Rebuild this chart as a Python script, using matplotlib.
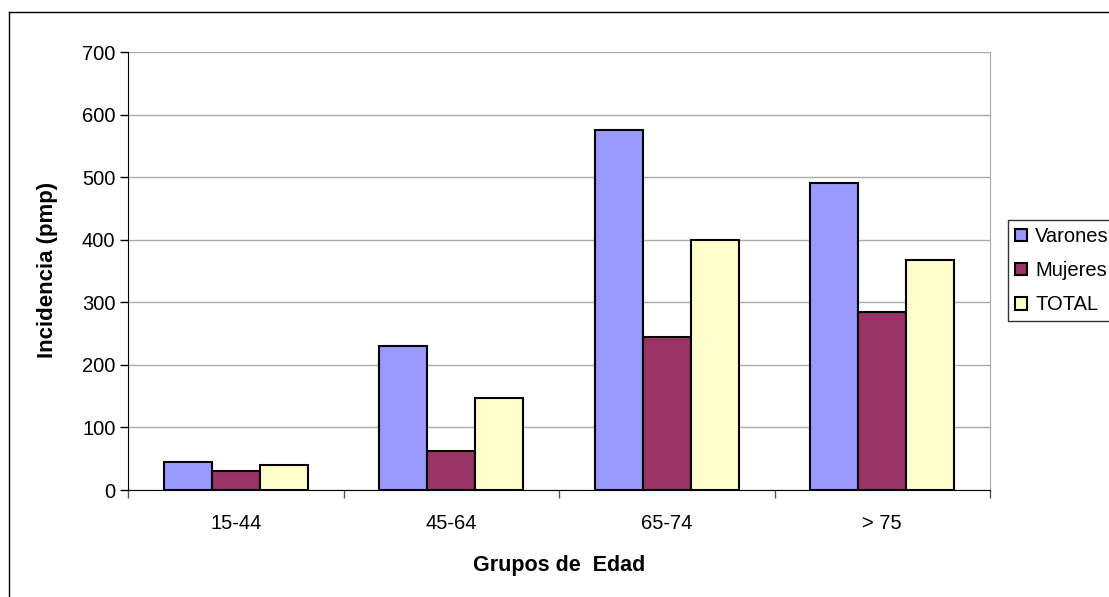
import matplotlib
matplotlib.use("Agg")
import matplotlib.pyplot as plt
from matplotlib.lines import Line2D
import numpy as np

grupos = ["15-44", "45-64", "65-74", "> 75"]
varones = [45, 230, 575, 490]
mujeres = [30, 62, 245, 284]
total = [40, 147, 400, 367]

series = [("Varones", varones, "#9999FF"),
          ("Mujeres", mujeres, "#993366"),
          ("TOTAL", total, "#FFFFCC")]

plt.rcParams["font.family"] = ["Liberation Sans", "DejaVu Sans"]

W, H = 1109, 597
fig = plt.figure(figsize=(W / 100, H / 100), dpi=100)
ax = fig.add_axes([128 / W, 1 - 490 / H, 862 / W, 438 / H])

x = np.arange(len(grupos))
ancho = 0.223
for i, (nombre, valores, color) in enumerate(series):
    ax.bar(x + (i - 1) * ancho, valores, ancho, color=color,
           edgecolor="black", linewidth=1.5, label=nombre, zorder=3)

ax.set_xlim(-0.5, len(grupos) - 0.5)
ax.set_ylim(0, 700)
ax.set_yticks(range(0, 701, 100))
ax.yaxis.grid(True, color="#AAAAAA", linewidth=1, zorder=0)
ax.set_xticks(x)
ax.set_xticklabels(grupos, fontsize=14.5)
ax.set_xticks(np.arange(-0.5, len(grupos), 1), minor=True)
ax.tick_params(axis="x", which="major", length=0, pad=17)
ax.tick_params(axis="x", which="minor", length=6, width=1, color="#555555")
ax.tick_params(axis="y", length=6, width=1, labelsize=14.5, pad=3)

ax.spines["top"].set_visible(False)
ax.spines["right"].set_color("#AAAAAA")
ax.spines["left"].set_color("black")
ax.spines["bottom"].set_color("black")

# títulos de los ejes en posición fija (px)
fig.text(47 / W, 1 - 270 / H, "Incidencia (pmp)", rotation=90, ha="center",
         va="center", fontsize=16, fontweight="bold")
fig.text(559 / W, 1 - 566 / H, "Grupos de  Edad", ha="center", va="center",
         fontsize=15.5, fontweight="bold")

ley = fig.legend(loc="upper left", bbox_to_anchor=(1008 / W, 1 - 220 / H),
                 fontsize=14.5, frameon=True, fancybox=False, edgecolor="black",
                 handlelength=0.6, handleheight=0.6, handletextpad=0.4,
                 borderpad=0.35, labelspacing=0.75, borderaxespad=0)
ley.get_frame().set_linewidth(1)

# borde exterior del gráfico
fig.add_artist(Line2D([9 / W, 9 / W], [0, 1 - 12 / H], color="black", linewidth=1))
fig.add_artist(Line2D([9 / W, 1], [1 - 12 / H, 1 - 12 / H], color="black", linewidth=1))

plt.savefig("out.png", dpi=100)
plt.close()
